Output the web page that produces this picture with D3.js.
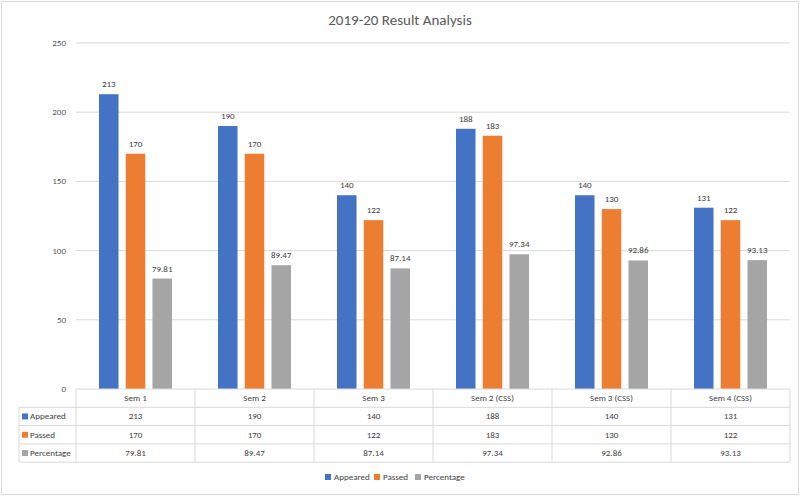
<!DOCTYPE html>
<html>
<head>
  <meta charset="utf-8" />
  <script src="https://d3js.org/d3.v7.min.js"></script>
  <style>
    body { margin: 0; background: #fff; font-family: Calibri, Carlito, 'Liberation Sans', 'Open Sans', sans-serif; }
  </style>
</head>
<body>
  <svg id="chart" width="800" height="496"></svg>
  <script>
    const categories = ["Sem 1", "Sem 2", "Sem 3", "Sem 2 (CSS)", "Sem 3 (CSS)", "Sem 4 (CSS)"];
    const seriesNames = ["Appeared", "Passed", "Percentage"];
    const colors = ["#4472c4", "#ed7d31", "#a5a5a5"];
    const appeared = [213, 190, 140, 188, 140, 131];
    const passed = [170, 170, 122, 183, 130, 122];
    const percentage = ["79.81", "89.47", "87.14", "97.34", "92.86", "93.13"];
    const yTicks = [0, 50, 100, 150, 200, 250];

    const series = [appeared.map(String), passed.map(String), percentage];

    const svg = d3.select("#chart");
    const plotLeft = 76, plotRight = 790, plotTop = 43, plotBottom = 389;
    const rowH = 18.3;

    svg.append("rect").attr("x", 1.5).attr("y", 1.5).attr("width", 797).attr("height", 493)
      .attr("fill", "#fff").attr("stroke", "#d9d9d9");

    svg.append("text").attr("x", 400).attr("y", 25).attr("text-anchor", "middle")
      .attr("font-size", 15).attr("fill", "#595959").text("2019-20 Result Analysis");

    const x = d3.scaleBand().domain(categories).range([plotLeft, plotRight]);
    const y = d3.scaleLinear().domain([0, 250]).range([plotBottom, plotTop]);
    const inner = d3.scaleBand().domain(d3.range(3)).range([0, 73]).paddingInner(0.27);

    // gridlines
    svg.append("g").selectAll("line").data(yTicks.slice(1)).join("line")
      .attr("x1", plotLeft).attr("x2", plotRight).attr("y1", d => y(d)).attr("y2", d => y(d))
      .attr("stroke", "#d9d9d9");
    svg.append("g").selectAll("text").data(yTicks).join("text")
      .attr("x", 66).attr("y", d => y(d) + 3).attr("text-anchor", "end")
      .attr("font-size", 9).attr("fill", "#595959").text(d => d);

    // bars
    series.forEach((vals, si) => {
      const g = svg.append("g");
      g.selectAll("rect").data(vals).join("rect")
        .attr("x", (d, i) => x(categories[i]) + (x.bandwidth() - 73) / 2 + inner(si))
        .attr("width", inner.bandwidth())
        .attr("y", d => y(+d)).attr("height", d => plotBottom - y(+d))
        .attr("fill", colors[si]);
      g.selectAll("text").data(vals).join("text")
        .attr("x", (d, i) => x(categories[i]) + (x.bandwidth() - 73) / 2 + inner(si) + inner.bandwidth() / 2)
        .attr("y", d => y(+d) - 7).attr("text-anchor", "middle")
        .attr("font-size", 9).attr("fill", "#404040").text(d => d);
    });

    // data table
    const t = svg.append("g").attr("stroke", "#d9d9d9");
    const tBottom = plotBottom + rowH * 4;
    for (let r = 0; r <= 4; r++) {
      t.append("line").attr("x1", r === 0 ? plotLeft : 19).attr("x2", plotRight)
        .attr("y1", plotBottom + r * rowH).attr("y2", plotBottom + r * rowH);
    }
    t.append("line").attr("x1", 19).attr("x2", 19).attr("y1", plotBottom + rowH).attr("y2", tBottom);
    categories.forEach(c => t.append("line").attr("x1", x(c)).attr("x2", x(c)).attr("y1", plotBottom).attr("y2", tBottom));
    t.append("line").attr("x1", plotRight).attr("x2", plotRight).attr("y1", plotBottom).attr("y2", tBottom);

    svg.append("g").selectAll("text").data(categories).join("text")
      .attr("x", d => x(d) + x.bandwidth() / 2).attr("y", plotBottom + rowH / 2 + 3)
      .attr("text-anchor", "middle").attr("font-size", 9).attr("fill", "#404040").text(d => d);

    series.forEach((vals, si) => {
      const ry = plotBottom + rowH * (si + 1);
      svg.append("rect").attr("x", 22).attr("y", ry + rowH / 2 - 3).attr("width", 6).attr("height", 6).attr("fill", colors[si]);
      svg.append("text").attr("x", 30).attr("y", ry + rowH / 2 + 3).attr("font-size", 9).attr("fill", "#404040").text(seriesNames[si]);
      svg.append("g").selectAll("text").data(vals).join("text")
        .attr("x", (d, i) => x(categories[i]) + x.bandwidth() / 2).attr("y", ry + rowH / 2 + 3)
        .attr("text-anchor", "middle").attr("font-size", 9).attr("fill", "#404040").text(d => d);
    });

    // legend
    const legX = [325, 374, 415];
    seriesNames.forEach((n, i) => {
      svg.append("rect").attr("x", legX[i]).attr("y", 474).attr("width", 6).attr("height", 6).attr("fill", colors[i]);
      svg.append("text").attr("x", legX[i] + 9).attr("y", 480).attr("font-size", 9).attr("fill", "#404040").text(n);
    });
  </script>
</body>
</html>
